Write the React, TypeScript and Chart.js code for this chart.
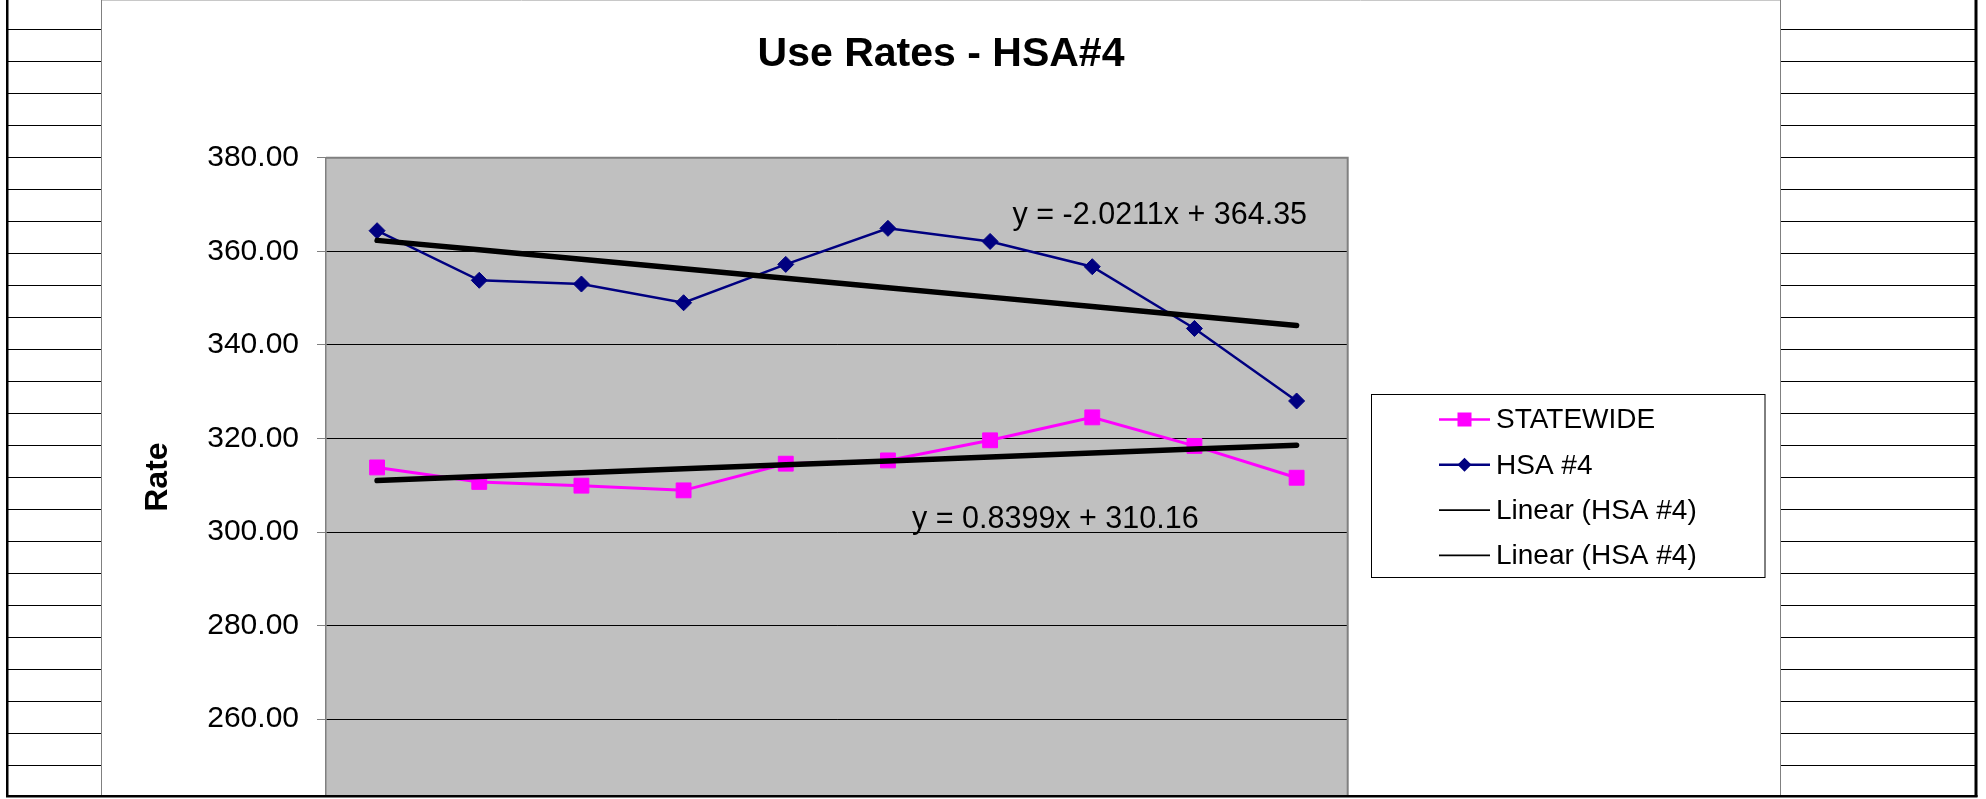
import React, { useEffect, useRef } from 'react';
import { Chart, registerables } from 'chart.js';

Chart.register(...registerables);

// ---------- data ----------
const categories = ['1', '2', '3', '4', '5', '6', '7', '8', '9', '10'];
const statewide = [313.8, 310.7, 309.9, 308.9, 314.6, 315.3, 319.6, 324.5, 318.4, 311.6];
const hsa4 = [364.4, 353.8, 353.0, 349.0, 357.2, 364.9, 362.1, 356.7, 343.5, 328.0];
const seriesLabels = ['STATEWIDE', 'HSA #4'];
const trendLabels = ['Linear (HSA #4)', 'Linear (HSA #4)'];
const trendSlopes = [-2.0211, 0.8399];
const trendIntercepts = [364.35, 310.16];
const trendEquations = ['y = -2.0211x + 364.35', 'y = 0.8399x + 310.16'];
// equation anchor (category index, value) of each label's left/middle
const equationX = [6.22, 5.236];
const equationY = [367.7, 302.7];
const yTickValues = [260, 280, 300, 320, 340, 360, 380];
const yMin = 243.47; // lowest visible value (the chart is cut off at the bottom)
const yMax = 380;
const chartTitle = 'Use Rates - HSA#4';
const yAxisTitle = 'Rate';

const FONT = "'Liberation Sans', Arial, Helvetica, sans-serif";
const MAGENTA = '#FF00FF';
const NAVY = '#000080';
const CANVAS_H = 808;

const trendData = trendSlopes.map((s, t) => categories.map((_, i) => trendIntercepts[t] + s * (i + 1)));

const decorPlugin = {
  id: 'decor',
  beforeDraw(chart: any) {
    const { ctx, chartArea } = chart;
    ctx.save();
    ctx.fillStyle = '#C0C0C0';
    ctx.fillRect(chartArea.left, chartArea.top, chartArea.right - chartArea.left, chartArea.bottom - chartArea.top);
    ctx.restore();
  },
  afterDraw(chart: any) {
    const { ctx, chartArea, scales } = chart;
    ctx.save();
    // plot border top / right
    ctx.strokeStyle = '#808080';
    ctx.lineWidth = 2;
    ctx.beginPath();
    ctx.moveTo(chartArea.left, chartArea.top);
    ctx.lineTo(chartArea.right, chartArea.top);
    ctx.lineTo(chartArea.right, chartArea.bottom);
    ctx.stroke();

    // white below the sheet frame
    ctx.fillStyle = '#fff';
    ctx.fillRect(0, 797.5, 1986, 20);

    // spreadsheet strips
    ctx.strokeStyle = '#000';
    ctx.lineWidth = 1;
    for (let y = 29.5; y < 795; y += 32) {
      ctx.beginPath();
      ctx.moveTo(8, y);
      ctx.lineTo(101, y);
      ctx.moveTo(1780, y);
      ctx.lineTo(1975, y);
      ctx.stroke();
    }
    ctx.strokeStyle = '#808080';
    ctx.beginPath();
    ctx.moveTo(101.5, 0);
    ctx.lineTo(101.5, 796);
    ctx.moveTo(1780.5, 0);
    ctx.lineTo(1780.5, 796);
    ctx.stroke();
    ctx.strokeStyle = '#C8C8C8';
    ctx.beginPath();
    ctx.moveTo(102, 0.5);
    ctx.lineTo(1780, 0.5);
    ctx.stroke();
    ctx.fillStyle = '#000';
    ctx.fillRect(6, 0, 2.5, 797);
    ctx.fillRect(1974.5, 0, 3, 797);
    ctx.fillRect(6, 795, 1971.5, 2.5);

    // title
    ctx.fillStyle = '#000';
    ctx.font = `bold 41px ${FONT}`;
    ctx.textAlign = 'center';
    ctx.textBaseline = 'middle';
    ctx.fillText(chartTitle, 941, 55);

    // equations
    ctx.font = `30.5px ${FONT}`;
    ctx.textAlign = 'left';
    ctx.textBaseline = 'middle';
    trendEquations.forEach((eq, i) => {
      const x = scales.x.getPixelForValue(equationX[i]);
      const y = scales.y.getPixelForValue(equationY[i]);
      ctx.fillText(eq, x, y);
    });

    // legend
    const bx = 1371.5, by = 394.5, bw = 393.5, bh = 183;
    ctx.fillStyle = '#fff';
    ctx.fillRect(bx, by, bw, bh);
    ctx.strokeStyle = '#000';
    ctx.lineWidth = 1;
    ctx.strokeRect(bx, by, bw, bh);
    const labels = [...seriesLabels, ...trendLabels];
    const colors = [MAGENTA, NAVY, '#000', '#000'];
    labels.forEach((lab, i) => {
      const y = 419.5 + i * 45.3;
      ctx.strokeStyle = colors[i];
      ctx.lineWidth = i < 2 ? 2.5 : 1.8;
      ctx.beginPath();
      ctx.moveTo(1439, y);
      ctx.lineTo(1490, y);
      ctx.stroke();
      ctx.fillStyle = colors[i];
      if (i === 0) {
        ctx.fillRect(1464.5 - 7, y - 7, 14, 14);
      } else if (i === 1) {
        ctx.beginPath();
        ctx.moveTo(1464.5 - 7, y);
        ctx.lineTo(1464.5, y - 7);
        ctx.lineTo(1464.5 + 7, y);
        ctx.lineTo(1464.5, y + 7);
        ctx.closePath();
        ctx.fill();
      }
      ctx.fillStyle = '#000';
      ctx.font = `28px ${FONT}`;
      ctx.textAlign = 'left';
      ctx.textBaseline = 'middle';
      ctx.fillText(lab, 1496, y + 1);
    });
    ctx.restore();
  },
};

export default function App() {
  const ref = useRef<HTMLCanvasElement>(null);
  useEffect(() => {
    if (!ref.current) return;
    const chart = new Chart(ref.current, {
      type: 'line',
      data: {
        labels: categories,
        datasets: [
          {
            label: trendLabels[0],
            data: trendData[0],
            borderColor: '#000',
            borderWidth: 5.5,
            borderCapStyle: 'round',
            pointRadius: 0,
            order: 1,
          },
          {
            label: trendLabels[1],
            data: trendData[1],
            borderColor: '#000',
            borderWidth: 5.5,
            borderCapStyle: 'round',
            pointRadius: 0,
            order: 1,
          },
          {
            label: seriesLabels[1],
            data: hsa4,
            borderColor: NAVY,
            backgroundColor: NAVY,
            borderWidth: 2.5,
            pointStyle: 'rectRot',
            pointRadius: 8,
            pointBorderWidth: 1,
            order: 2,
          },
          {
            label: seriesLabels[0],
            data: statewide,
            borderColor: MAGENTA,
            backgroundColor: MAGENTA,
            borderWidth: 3,
            pointStyle: 'rect',
            pointRadius: 10.5,
            pointBorderWidth: 1,
            order: 3,
          },
        ],
      },
      options: {
        animation: false,
        responsive: false,
        devicePixelRatio: 1,
        layout: { padding: { left: 102, right: 1986 - 1347.7, top: 157.7, bottom: 3 } },
        plugins: { legend: { display: false }, tooltip: { enabled: false }, title: { display: false } },
        elements: { line: { tension: 0 } },
        scales: {
          x: {
            type: 'category',
            display: false,
            offset: true,
          },
          y: {
            min: yMin,
            max: yMax,
            afterBuildTicks: (scale: any) => {
              scale.ticks = yTickValues.map((v) => ({ value: v }));
            },
            afterFit: (scale: any) => {
              scale.width = 224;
              scale.paddingTop = 0;
              scale.paddingBottom = 0;
            },
            ticks: {
              padding: 18,
              color: '#000',
              font: { family: FONT, size: 30 },
              callback: (v: any) => Number(v).toFixed(2),
            },
            grid: {
              color: '#000',
              lineWidth: 1,
              tickLength: 9,
              tickColor: '#808080',
              drawOnChartArea: true,
            },
            border: { display: true, color: '#808080', width: 1.5 },
            title: {
              display: true,
              text: yAxisTitle,
              color: '#000',
              font: { family: FONT, size: 32, weight: 'bold' },
              padding: { top: 37, bottom: 0 },
            },
          },
        },
      },
      plugins: [decorPlugin],
    } as any);
    return () => chart.destroy();
  }, []);
  return (
    <div style={{ position: 'fixed', left: 0, top: 0, width: 1986, height: 799, overflow: 'hidden', background: '#fff' }}>
      <canvas ref={ref} width={1986} height={CANVAS_H} style={{ display: 'block', width: 1986, height: CANVAS_H }} />
    </div>
  );
}
